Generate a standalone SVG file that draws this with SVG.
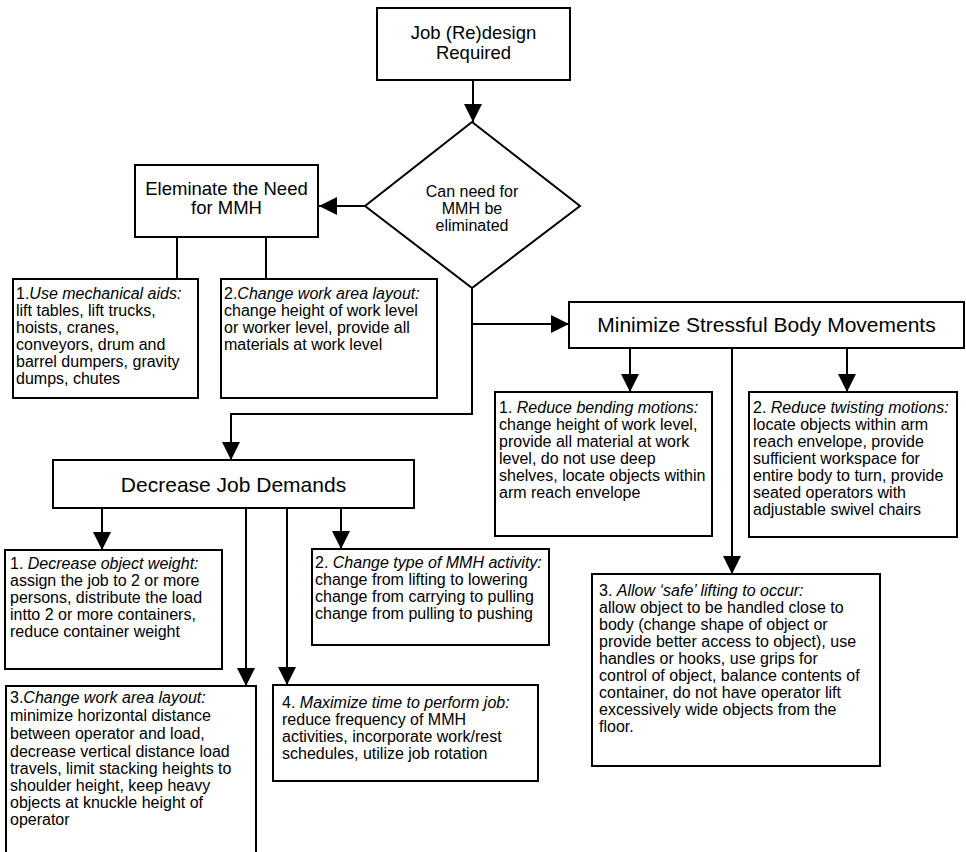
<svg xmlns="http://www.w3.org/2000/svg" width="966" height="852" viewBox="0 0 966 852">
<style>
.box{fill:#fff;stroke:#000;stroke-width:2}
.ln{fill:none;stroke:#000;stroke-width:2}
text{font-family:"Liberation Sans",Arial,Helvetica,sans-serif;fill:#000}
.t{font-size:16px}
.h{font-size:18.5px;text-anchor:middle}
.H{font-size:21px;text-anchor:middle}
.d{font-size:16px;text-anchor:middle}
.i{font-style:italic}
</style>
<defs>
<marker id="ah" viewBox="0 0 18 18" refX="18" refY="9" markerWidth="18" markerHeight="18" markerUnits="userSpaceOnUse" orient="auto">
<path d="M0,0 L18,9 L0,18 z" fill="#000"/>
</marker>
</defs>
<rect width="966" height="852" fill="#fff"/>
<g id="connectors">
<path class="ln" d="M473,80 V122" marker-end="url(#ah)"/>
<path class="ln" d="M365,206 H319" marker-end="url(#ah)"/>
<path class="ln" d="M177,237 V279"/>
<path class="ln" d="M266,237 V279"/>
<path class="ln" d="M472,288 V414 H231 V460" marker-end="url(#ah)"/>
<path class="ln" d="M472,324 H569" marker-end="url(#ah)"/>
<path class="ln" d="M630,348 V392" marker-end="url(#ah)"/>
<path class="ln" d="M732,348 V574" marker-end="url(#ah)"/>
<path class="ln" d="M847,348 V392" marker-end="url(#ah)"/>
<path class="ln" d="M102,508 V550" marker-end="url(#ah)"/>
<path class="ln" d="M246,508 V686" marker-end="url(#ah)"/>
<path class="ln" d="M287,508 V685" marker-end="url(#ah)"/>
<path class="ln" d="M341,508 V549" marker-end="url(#ah)"/>
</g>
<g id="start">
<rect class="box" x="377" y="8" width="193" height="72"/>
<text class="h" x="473.5" y="38.5">Job (Re)design</text>
<text class="h" x="473.5" y="58.5">Required</text>
</g>
<g id="decision">
<polygon class="box" points="472,122 580,206 472,288 365,206"/>
<text class="d" x="472" y="197">Can need for</text>
<text class="d" x="472" y="214">MMH be</text>
<text class="d" x="472" y="231">eliminated</text>
</g>
<g id="eliminate">
<rect class="box" x="135" y="165" width="183" height="72"/>
<text class="h" x="226.5" y="195">Eleminate the Need</text>
<text class="h" x="226.5" y="214">for MMH</text>
</g>
<g id="mech-aids">
<rect class="box" x="13" y="279" width="185" height="119"/>
<text class="t" x="16" y="299">1.<tspan class="i">Use mechanical aids:</tspan></text>
<text class="t" x="16" y="316">lift tables, lift trucks,</text>
<text class="t" x="16" y="333">hoists, cranes,</text>
<text class="t" x="16" y="350">conveyors, drum and</text>
<text class="t" x="16" y="367">barrel dumpers, gravity</text>
<text class="t" x="16" y="384">dumps, chutes</text>
</g>
<g id="layout-1">
<rect class="box" x="221" y="279" width="216" height="119"/>
<text class="t" x="224" y="299">2.<tspan class="i">Change work area layout:</tspan></text>
<text class="t" x="224" y="316">change height of work level</text>
<text class="t" x="224" y="333">or worker level, provide all</text>
<text class="t" x="224" y="350">materials at work level</text>
</g>
<g id="minimize">
<rect class="box" x="569" y="302" width="395" height="46"/>
<text class="H" x="766.5" y="332">Minimize Stressful Body Movements</text>
</g>
<g id="bending">
<rect class="box" x="495" y="392" width="217" height="144"/>
<text class="t" x="499" y="413">1. <tspan class="i">Reduce bending motions:</tspan></text>
<text class="t" x="499" y="430">change height of work level,</text>
<text class="t" x="499" y="447">provide all material at work</text>
<text class="t" x="499" y="464">level, do not use deep</text>
<text class="t" x="499" y="481">shelves, locate objects within</text>
<text class="t" x="499" y="498">arm reach envelope</text>
</g>
<g id="twisting">
<rect class="box" x="749" y="392" width="208" height="145"/>
<text class="t" x="753" y="413">2. <tspan class="i">Reduce twisting motions:</tspan></text>
<text class="t" x="753" y="430">locate objects within arm</text>
<text class="t" x="753" y="447">reach envelope, provide</text>
<text class="t" x="753" y="464">sufficient workspace for</text>
<text class="t" x="753" y="481">entire body to turn, provide</text>
<text class="t" x="753" y="498">seated operators with</text>
<text class="t" x="753" y="515">adjustable swivel chairs</text>
</g>
<g id="safe-lifting">
<rect class="box" x="592" y="574" width="288" height="192"/>
<text class="t" x="599" y="596">3. <tspan class="i">Allow ‘safe’ lifting to occur:</tspan></text>
<text class="t" x="599" y="613">allow object to be handled close to</text>
<text class="t" x="599" y="630">body (change shape of object or</text>
<text class="t" x="599" y="647">provide better access to object), use</text>
<text class="t" x="599" y="664">handles or hooks, use grips for</text>
<text class="t" x="599" y="681">control of object, balance contents of</text>
<text class="t" x="599" y="698">container, do not have operator lift</text>
<text class="t" x="599" y="715">excessively wide objects from the</text>
<text class="t" x="599" y="732">floor.</text>
</g>
<g id="decrease">
<rect class="box" x="53" y="460" width="361" height="48"/>
<text class="H" x="233.5" y="492">Decrease Job Demands</text>
</g>
<g id="weight">
<rect class="box" x="5" y="550" width="217" height="119"/>
<text class="t" x="10" y="569">1. <tspan class="i">Decrease object weight:</tspan></text>
<text class="t" x="10" y="586">assign the job to 2 or more</text>
<text class="t" x="10" y="603">persons, distribute the load</text>
<text class="t" x="10" y="620">intto 2 or more containers,</text>
<text class="t" x="10" y="637">reduce container weight</text>
</g>
<g id="activity-type">
<rect class="box" x="312" y="549" width="237" height="96"/>
<text class="t" x="315" y="568">2. <tspan class="i">Change type of MMH activity:</tspan></text>
<text class="t" x="315" y="585">change from lifting to lowering</text>
<text class="t" x="315" y="602">change from carrying to pulling</text>
<text class="t" x="315" y="619">change from pulling to pushing</text>
</g>
<g id="layout-2">
<path class="box" d="M6,853 V686 H256 V853"/>
<text class="t" x="10" y="703">3.<tspan class="i">Change work area layout:</tspan></text>
<text class="t" x="10" y="721">minimize horizontal distance</text>
<text class="t" x="10" y="739">between operator and load,</text>
<text class="t" x="10" y="757">decrease vertical distance load</text>
<text class="t" x="10" y="774">travels, limit stacking heights to</text>
<text class="t" x="10" y="791">shoulder height, keep heavy</text>
<text class="t" x="10" y="808">objects at knuckle height of</text>
<text class="t" x="10" y="825">operator</text>
</g>
<g id="time">
<rect class="box" x="273" y="685" width="265" height="96"/>
<text class="t" x="282" y="708">4. <tspan class="i">Maximize time to perform job:</tspan></text>
<text class="t" x="282" y="725">reduce frequency of MMH</text>
<text class="t" x="282" y="742">activities, incorporate work/rest</text>
<text class="t" x="282" y="759">schedules, utilize job rotation</text>
</g>
</svg>
